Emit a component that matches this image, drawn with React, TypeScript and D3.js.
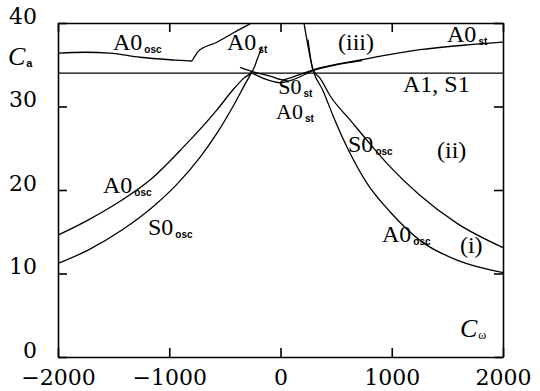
import React, { useEffect, useRef } from "react";
import * as d3 from "d3";

// tick values
const xTicks = [-2000, -1000, 0, 1000, 2000];
const yTicks = [0, 10, 20, 30, 40];

// curves, [C_omega, C_alpha]
const a0OscTop = [[-2000, 36.4], [-1757, 36.5], [-1533, 36.4], [-1263, 35.9], [-993, 35.6], [-800, 35.45], [-775, 35.9], [-740, 36.6], [-571, 37.7], [-427, 38.8], [-274, 39.9]];
const a0OscLeft = [[-2000, 14.6], [-1730, 16.4], [-1425, 18.8], [-1173, 21.2], [-876, 25.1], [-571, 29.6], [-427, 32.0], [-330, 33.4], [-250, 34.3], [-205, 35.8], [-166, 37.2]];
const s0OscLeft = [[-2000, 11.2], [-1730, 12.8], [-1425, 15.2], [-1128, 18.2], [-930, 20.7], [-724, 23.9], [-571, 26.8], [-427, 30.0], [-301, 33.1], [-250, 34.3]];
const s0OscRight = [[247, 38.0], [292, 34.4], [355, 33.4], [450, 31.2], [625, 28.4], [800, 25.6], [984, 22.8], [1250, 19.4], [1587, 16.0], [2000, 13.1]];
const a0OscRight = [[211, 40], [292, 34.4], [382, 31.9], [472, 28.9], [625, 24.4], [778, 20.8], [984, 17.4], [1281, 13.7], [1587, 11.6], [2000, 10.1]];
const s0St = [[-364, 34.7], [-229, 34.1], [-94, 33.65], [22, 33.2], [103, 33.5], [292, 34.4], [733, 35.6], [1254, 36.8], [1703, 37.4], [2000, 37.7]];
const a0St = [[-256, 34.0], [-150, 33.35], [0, 32.85], [110, 33.2], [292, 34.3], [500, 35.0], [733, 35.5]];
const a1s1 = [[-2000, 34], [2000, 34]];

const curves = [a0OscTop, a0OscLeft, s0OscLeft, s0OscRight, a0OscRight, s0St, a0St, a1s1];

// annotations: main text, subscript, [x, y] of baseline start in data units, font size
const labels = [
  { t: "A0", s: "osc", p: [-1506, 36.8], f: 24 },
  { t: "A0", s: "st", p: [-481, 36.8], f: 24 },
  { t: "(iii)", s: "", p: [517, 36.8], f: 24 },
  { t: "A0", s: "st", p: [1497, 37.7], f: 24 },
  { t: "A1,  S1", s: "", p: [1101, 31.7], f: 24 },
  { t: "S0", s: "st", p: [-20, 31.45], f: 22 },
  { t: "A0", s: "st", p: [-40, 28.45], f: 22 },
  { t: "A0", s: "osc", p: [-1596, 19.6], f: 24 },
  { t: "S0", s: "osc", p: [-1191, 14.6], f: 24 },
  { t: "S0", s: "osc", p: [607, 24.6], f: 24 },
  { t: "(ii)", s: "", p: [1407, 23.8], f: 24 },
  { t: "A0", s: "osc", p: [912, 13.8], f: 24 },
  { t: "(i)", s: "", p: [1613, 12.5], f: 24 },
];

const App = () => {
  const ref = useRef<SVGSVGElement>(null);

  useEffect(() => {
    const svg = d3.select(ref.current);
    svg.selectAll("*").remove();

    const x = d3.scaleLinear().domain([-2000, 2000]).range([58, 503]);
    const y = d3.scaleLinear().domain([0, 40]).range([357, 23]);

    const tickFont = "'DejaVu Serif', serif";

    const styleAxis = (g: any) => {
      g.selectAll("path, line").attr("stroke", "#000").attr("stroke-width", 1.6);
      g.selectAll("text").attr("font-family", tickFont).attr("font-size", 22).attr("fill", "#000");
    };

    svg.append("g")
      .attr("transform", `translate(0, ${y(0)})`)
      .call(d3.axisBottom(x).tickValues(xTicks).tickSizeInner(-9).tickSizeOuter(0).tickFormat(d3.format("d")))
      .call(styleAxis)
      .call((g: any) => g.selectAll("text").attr("y", 28).attr("dy", 0));

    svg.append("g")
      .attr("transform", `translate(${x(-2000)}, 0)`)
      .call(d3.axisLeft(y).tickValues(yTicks).tickSizeInner(-9).tickSizeOuter(0).tickPadding(21))
      .call(styleAxis)
      .call((g: any) => g.selectAll("text").attr("dy", 0));

    svg.append("g")
      .attr("transform", `translate(0, ${y(40)})`)
      .call(d3.axisTop(x).tickValues(xTicks).tickSizeInner(-9).tickSizeOuter(0).tickFormat(() => ""))
      .call(styleAxis);

    svg.append("g")
      .attr("transform", `translate(${x(2000)}, 0)`)
      .call(d3.axisRight(y).tickValues(yTicks).tickSizeInner(-9).tickSizeOuter(0).tickFormat(() => ""))
      .call(styleAxis);

    const line = d3.line<number[]>()
      .x((d) => x(d[0]))
      .y((d) => y(d[1]))
      .curve(d3.curveMonotoneX);

    svg.append("g")
      .selectAll("path")
      .data(curves)
      .join("path")
      .attr("d", (d) => line(d))
      .attr("fill", "none")
      .attr("stroke", "#000")
      .attr("stroke-width", 1.3);

    const lab = svg.append("g")
      .selectAll("text")
      .data(labels)
      .join("text")
      .attr("x", (d) => x(d.p[0]))
      .attr("y", (d) => y(d.p[1]))
      .attr("font-family", "'Liberation Serif', serif")
      .attr("font-size", (d) => d.f)
      .attr("fill", "#000");
    lab.append("tspan").text((d) => d.t);
    lab.append("tspan")
      .attr("dx", 2)
      .attr("dy", 3)
      .attr("font-family", "'Liberation Sans', sans-serif")
      .attr("font-weight", "bold")
      .attr("font-size", 10)
      .text((d) => d.s);

    // axis names
    const ca = svg.append("text")
      .attr("x", 8)
      .attr("y", 65)
      .attr("font-family", "'Liberation Serif', serif")
      .attr("font-style", "italic")
      .attr("font-size", 26);
    ca.append("tspan").text("C");
    ca.append("tspan").attr("dx", 1).attr("dy", 2).attr("font-size", 11).attr("font-weight", "bold").attr("font-style", "normal").attr("font-family", "'Liberation Sans', sans-serif").text("a");

    const cw = svg.append("text")
      .attr("x", x(1613))
      .attr("y", y(2.4))
      .attr("font-family", "'Liberation Serif', serif")
      .attr("font-style", "italic")
      .attr("font-size", 26);
    cw.append("tspan").text("C");
    cw.append("tspan").attr("dx", 1).attr("dy", 2).attr("font-size", 12).attr("font-style", "normal").text("ω");
  }, []);

  return (
    <svg
      ref={ref}
      width={540}
      height={391}
      style={{ position: "absolute", left: 0, top: 0, background: "#fff" }}
    ></svg>
  );
};

export default App;
